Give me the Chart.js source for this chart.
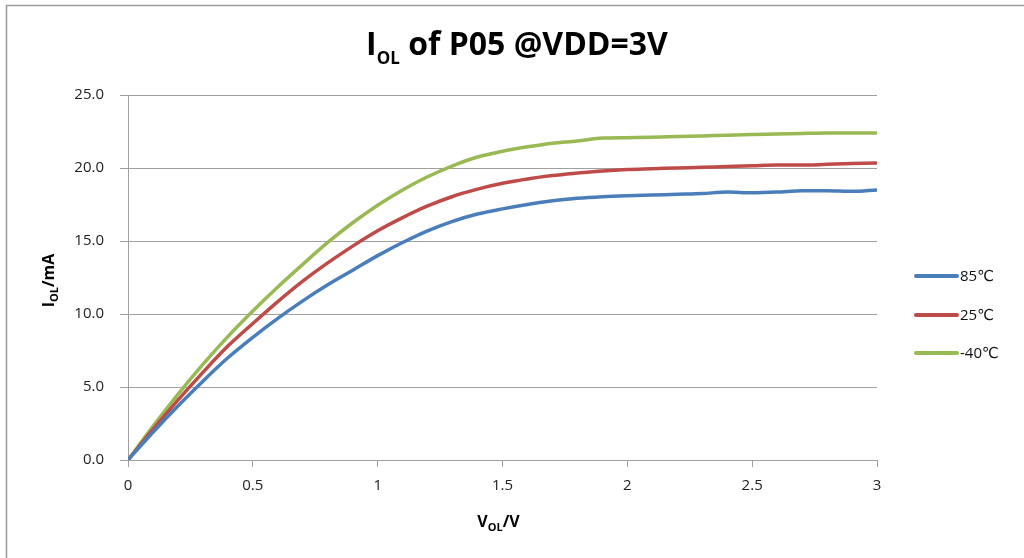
<!DOCTYPE html>
<html lang="en">
<head>
  <meta charset="UTF-8" />
  <title>IOL of P05 @VDD=3V</title>
  <script src="https://cdn.jsdelivr.net/npm/chart.js"></script>
  <style>
    body {
      margin: 0;
      background: #fff;
    }
    .wrap {
      width: 1024px;
      height: 558px;
      position: relative;
    }
  </style>
</head>
<body>
  <div class="wrap"><canvas id="iolChart"></canvas></div>

  <script>
    // VOL sweep (V) and measured IOL (mA) per temperature
    const vol = [0, 0.1, 0.2, 0.3, 0.4, 0.5, 0.6, 0.7, 0.8, 0.9, 1.0,
                 1.1, 1.2, 1.3, 1.4, 1.5, 1.6, 1.7, 1.8, 1.9, 2.0,
                 2.1, 2.2, 2.3, 2.4, 2.5, 2.6, 2.7, 2.8, 2.9, 3.0];
    const i85 = [0, 1.9, 3.7, 5.4, 7.0, 8.4, 9.7, 10.9, 12.0, 13.0, 14.0,
                 14.9, 15.7, 16.35, 16.85, 17.2, 17.5, 17.75, 17.92, 18.03, 18.1,
                 18.15, 18.2, 18.25, 18.35, 18.3, 18.35, 18.45, 18.45, 18.4, 18.5];
    const i25 = [0, 2.1, 4.1, 6.0, 7.8, 9.35, 10.85, 12.25, 13.5, 14.65, 15.7,
                 16.6, 17.4, 18.05, 18.55, 18.95, 19.25, 19.48, 19.65, 19.8, 19.9,
                 19.95, 20.0, 20.05, 20.1, 20.15, 20.2, 20.2, 20.25, 20.3, 20.35];
    const iM40 = [0, 2.3, 4.5, 6.55, 8.45, 10.2, 11.85, 13.4, 14.9, 16.25, 17.45,
                  18.5, 19.4, 20.15, 20.75, 21.15, 21.45, 21.7, 21.85, 22.05, 22.08,
                  22.1, 22.15, 22.2, 22.25, 22.3, 22.33, 22.37, 22.4, 22.4, 22.4];

    const seriesNames = ['85℃', '25℃', '-40℃'];
    const seriesColors = ['#4a7ebb', '#be4b48', '#98b954'];

    const FONT = "'Open Sans', 'DejaVu Sans', sans-serif";
    const GRID = '#a0a0a0';

    function pts(ys) {
      return vol.map((v, i) => ({ x: v, y: ys[i] }));
    }

    // main text + lowered subscript + tail, centred on cx at baseline y
    function subText(ctx, main, sub, tail, size, subSize, cx, y) {
      const big = 'bold ' + size + 'px ' + FONT;
      const small = 'bold ' + subSize + 'px ' + FONT;
      ctx.font = big;
      const w1 = ctx.measureText(main).width;
      const w3 = ctx.measureText(tail).width;
      ctx.font = small;
      const w2 = ctx.measureText(sub).width;
      let x = cx - (w1 + w2 + w3) / 2;
      ctx.textAlign = 'left';
      ctx.textBaseline = 'alphabetic';
      ctx.font = big;
      ctx.fillText(main, x, y);
      x += w1;
      ctx.font = small;
      ctx.fillText(sub, x, y + size * 0.28);
      x += w2;
      ctx.font = big;
      ctx.fillText(tail, x, y);
    }

    const decor = {
      id: 'decor',
      beforeDraw(chart) {
        const ctx = chart.ctx;
        ctx.save();
        ctx.strokeStyle = '#9a9a9a';
        ctx.lineWidth = 1.5;
        ctx.strokeRect(6.5, 5.5, 1100, 600);
        ctx.restore();
      },
      afterDraw(chart) {
        const ctx = chart.ctx;
        const a = chart.chartArea;
        ctx.save();
        ctx.fillStyle = '#000';

        // chart title
        subText(ctx, 'I', 'OL', ' of P05 @VDD=3V', 32, 17, 517, 55);

        // x axis title
        subText(ctx, 'V', 'OL', '/V', 16, 11, (a.left + a.right) / 2 - 4, 527);

        // y axis title, rotated
        ctx.save();
        ctx.translate(54, (a.top + a.bottom) / 2 + 3);
        ctx.rotate(-Math.PI / 2);
        subText(ctx, 'I', 'OL', '/mA', 16, 11, 0, 0);
        ctx.restore();

        // legend on the right
        const ys = [276, 315, 353];
        chart.data.datasets.forEach((ds, i) => {
          ctx.strokeStyle = ds.borderColor;
          ctx.lineWidth = 4;
          ctx.lineCap = 'round';
          ctx.beginPath();
          ctx.moveTo(916, ys[i]);
          ctx.lineTo(957, ys[i]);
          ctx.stroke();
          ctx.fillStyle = '#111';
          ctx.font = '15px ' + FONT;
          ctx.textAlign = 'left';
          ctx.textBaseline = 'middle';
          ctx.fillText(ds.label, 960, ys[i] + 1);
        });
        ctx.restore();
      }
    };

    const series = [i85, i25, iM40];

    new Chart(document.getElementById('iolChart'), {
      type: 'line',
      data: {
        datasets: series.map((s, i) => ({
          label: seriesNames[i],
          data: pts(s),
          borderColor: seriesColors[i],
          backgroundColor: seriesColors[i],
          borderWidth: 3.5,
          pointRadius: 0,
          cubicInterpolationMode: 'monotone',
          fill: false
        }))
      },
      options: {
        responsive: true,
        maintainAspectRatio: false,
        animation: false,
        layout: { padding: { left: 0, right: 147, top: 95, bottom: 0 } },
        plugins: {
          legend: { display: false },
          title: { display: false },
          tooltip: { enabled: false }
        },
        scales: {
          x: {
            type: 'linear',
            min: 0,
            max: 3,
            afterFit: s => { s.height = 98; },
            ticks: {
              stepSize: 0.5,
              color: '#222',
              padding: 10,
              maxRotation: 0,
              font: { family: FONT, size: 15 },
              callback: v => String(+v.toFixed(1))
            },
            grid: {
              drawOnChartArea: false,
              drawTicks: true,
              tickLength: 7,
              color: GRID
            },
            border: { display: true, color: GRID, width: 1 }
          },
          y: {
            min: 0,
            max: 25,
            afterFit: s => { s.width = 128; },
            ticks: {
              stepSize: 5,
              color: '#222',
              padding: 16,
              font: { family: FONT, size: 15 },
              callback: v => v.toFixed(1)
            },
            grid: {
              color: GRID,
              tickLength: 8
            },
            border: { display: true, color: GRID, width: 1 }
          }
        }
      },
      plugins: [decor]
    });
  </script>
</body>
</html>
